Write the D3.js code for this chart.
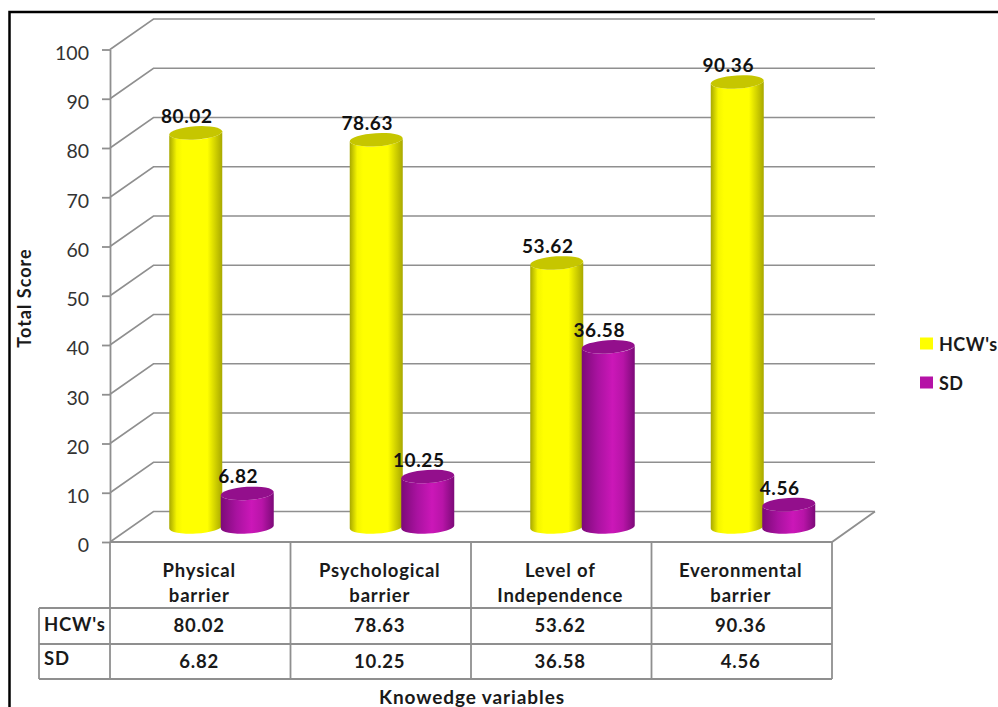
<!DOCTYPE html>
<html>
<head>
<meta charset="utf-8">
<style>
  html, body { margin: 0; padding: 0; background: #fff; overflow: hidden; }
  text { font-family: Lato, "Open Sans", sans-serif; fill: #1a1a1a; }
</style>
<script src="https://cdnjs.cloudflare.com/ajax/libs/d3/7.8.5/d3.min.js"></script>
</head>
<body>
<svg id="chart" width="998" height="707"></svg>
<script>
const categories = [["Physical", "barrier"], ["Psychological", "barrier"], ["Level of", "Independence"], ["Everonmental", "barrier"]];
const seriesNames = ["HCW's", "SD"];
const hcwValues = [80.02, 78.63, 53.62, 90.36];
const sdValues = [6.82, 10.25, 36.58, 4.56];
const yTicks = [0, 10, 20, 30, 40, 50, 60, 70, 80, 90, 100];

const svg = d3.select("#chart");
const gridColor = "#8f8f8f";

// Front plane of the 3D box and how far the back wall is shifted
const left = 110, right = 832;
const depthX = 43.5, depthY = -30.5;
const floorLift = 15; // cylinders stand on the middle of the floor

const y = d3.scaleLinear().domain([0, 100]).range([542, 49.5]);
const x = d3.scaleBand().domain(d3.range(categories.length)).range([left, right]);
const bandMid = i => x(i) + x.bandwidth() / 2;
const seriesOffset = d3.scaleOrdinal().domain(seriesNames).range([-4.5, 47]);

const colors = {
  "HCW's": { cap: "#c6c600", swatch: "#ffff00",
    stops: [["0%", "#a8a800"], ["14%", "#f5f500"], ["25%", "#ffff00"], ["72%", "#ffff00"], ["100%", "#a8a800"]] },
  "SD": { cap: "#930f8c", swatch: "#b512a6",
    stops: [["0%", "#7c0a78"], ["30%", "#a912a0"], ["58%", "#cb17b8"], ["78%", "#b814a8"], ["100%", "#7c0a78"]] }
};

const defs = svg.append("defs");
seriesNames.forEach((name, i) => {
  const grad = defs.append("linearGradient").attr("id", "cyl" + i);
  colors[name].stops.forEach(s => grad.append("stop").attr("offset", s[0]).attr("stop-color", s[1]));
});

// Outer frame, open on the right
svg.append("path")
  .attr("d", "M9.5,707V12H998")
  .attr("fill", "none")
  .attr("stroke", "#000")
  .attr("stroke-width", 2.5);

// Gridlines: side wall segment then along the back wall
svg.append("g").selectAll("path")
  .data(yTicks)
  .enter()
  .append("path")
  .attr("d", d => `M${left},${y(d)}L${left + depthX},${y(d) + depthY}H875`)
  .attr("fill", "none")
  .attr("stroke", gridColor)
  .attr("stroke-width", 1.6);

// Floor edge on the right and the front edge along the table top
svg.append("path")
  .attr("d", `M875,${y(0) + depthY}L${right},${y(0)}H${left}`)
  .attr("fill", "none")
  .attr("stroke", gridColor)
  .attr("stroke-width", 1.8);

// Value axis
const axis = svg.append("g")
  .attr("transform", `translate(${left},0)`)
  .call(d3.axisLeft(y).tickValues(yTicks).tickSize(8).tickSizeOuter(0).tickPadding(13));
axis.selectAll("line, path").attr("stroke", gridColor).attr("stroke-width", 1.8);
axis.selectAll("text")
  .attr("font-size", 19.5)
  .attr("dy", "0.5em")
  .style("font-family", "Lato")
  .style("fill", "#333");

// Cylinders
const rx = 26.5, ry = 6.6, tilt = 1.6, tiltDeg = -3.5;
function cylinderBody(cx, top, base) {
  return `M${cx - rx},${top + tilt}L${cx - rx},${base + tilt}` +
    `A${rx},${ry} ${tiltDeg} 0 0 ${cx + rx},${base - tilt}` +
    `L${cx + rx},${top - tilt}` +
    `A${rx},${ry} ${tiltDeg} 0 1 ${cx - rx},${top + tilt}Z`;
}

const bars = [];
categories.forEach((c, i) => {
  bars.push({ name: "HCW's", s: 0, i, value: hcwValues[i] });
  bars.push({ name: "SD", s: 1, i, value: sdValues[i] });
});

const barGroup = svg.selectAll("g.bar")
  .data(bars)
  .enter()
  .append("g")
  .attr("class", "bar");

barGroup.append("path")
  .attr("d", d => cylinderBody(bandMid(d.i) + seriesOffset(d.name), y(d.value) - floorLift, y(0) - floorLift))
  .attr("fill", d => `url(#cyl${d.s})`);

barGroup.append("ellipse")
  .attr("rx", rx)
  .attr("ry", ry)
  .attr("fill", d => colors[d.name].cap)
  .attr("transform", d => `translate(${bandMid(d.i) + seriesOffset(d.name)},${y(d.value) - floorLift}) rotate(${tiltDeg})`);

// Value labels sit above the caps, drawn after every bar
svg.append("g").selectAll("text")
  .data(bars)
  .enter()
  .append("text")
  .attr("x", d => bandMid(d.i) + seriesOffset(d.name) - 9)
  .attr("y", d => y(d.value) - floorLift - 10)
  .attr("text-anchor", "middle")
  .attr("font-size", 19)
  .attr("font-weight", 700)
  .attr("letter-spacing", 0.6)
  .style("fill", "#111")
  .text(d => d.value.toFixed(2));

// Data table under the plot
const rowTop = 608, rowMid = 644, rowBottom = 679, tableLeft = 39;
const tableLines = svg.append("g").attr("stroke", gridColor).attr("stroke-width", 1.8).attr("fill", "none");
[[left, 542, left, rowBottom], [tableLeft, rowTop, right, rowTop], [tableLeft, rowMid, right, rowMid],
 [tableLeft, rowBottom, right, rowBottom], [tableLeft, rowTop, tableLeft, rowBottom]]
  .forEach(l => tableLines.append("line").attr("x1", l[0]).attr("y1", l[1]).attr("x2", l[2]).attr("y2", l[3]));
tableLines.selectAll("line.col")
  .data(d3.range(1, categories.length + 1))
  .enter()
  .append("line")
  .attr("class", "col")
  .attr("x1", d => left + d * x.bandwidth())
  .attr("x2", d => left + d * x.bandwidth())
  .attr("y1", 542)
  .attr("y2", rowBottom);

const tableText = svg.append("g")
  .attr("font-size", 18.5)
  .attr("font-weight", 700)
  .attr("letter-spacing", 0.8);

categories.forEach((lines, i) => {
  lines.forEach((line, j) => {
    tableText.append("text")
      .attr("x", bandMid(i) - 1)
      .attr("y", 577 + j * 25)
      .attr("text-anchor", "middle")
      .text(line);
  });
  tableText.append("text").attr("x", bandMid(i) - 1).attr("y", 632).attr("text-anchor", "middle")
    .text(hcwValues[i].toFixed(2));
  tableText.append("text").attr("x", bandMid(i) - 1).attr("y", 668).attr("text-anchor", "middle")
    .text(sdValues[i].toFixed(2));
});
tableText.append("text").attr("x", 44).attr("y", 631).text(seriesNames[0]);
tableText.append("text").attr("x", 44).attr("y", 665).text(seriesNames[1]);

// Axis titles
svg.append("text")
  .attr("transform", "translate(31,298) rotate(-90)")
  .attr("text-anchor", "middle")
  .attr("font-size", 18)
  .attr("font-weight", 700)
  .attr("letter-spacing", 1)
  .text("Total Score");

svg.append("text")
  .attr("x", 472)
  .attr("y", 704)
  .attr("text-anchor", "middle")
  .attr("font-size", 19)
  .attr("font-weight", 700)
  .attr("letter-spacing", 0.9)
  .text("Knowedge variables");

// Legend
const legend = svg.selectAll("g.legend")
  .data(seriesNames)
  .enter()
  .append("g")
  .attr("class", "legend")
  .attr("transform", (d, i) => `translate(920,${344 + i * 39})`);
legend.append("rect")
  .attr("x", 0)
  .attr("y", -6.5)
  .attr("width", 13)
  .attr("height", 12)
  .attr("fill", d => colors[d].swatch);
legend.append("text")
  .attr("x", 19)
  .attr("y", 6.5)
  .attr("font-size", 18)
  .attr("font-weight", 700)
  .attr("letter-spacing", 0.5)
  .text(d => d);
</script>
</body>
</html>
